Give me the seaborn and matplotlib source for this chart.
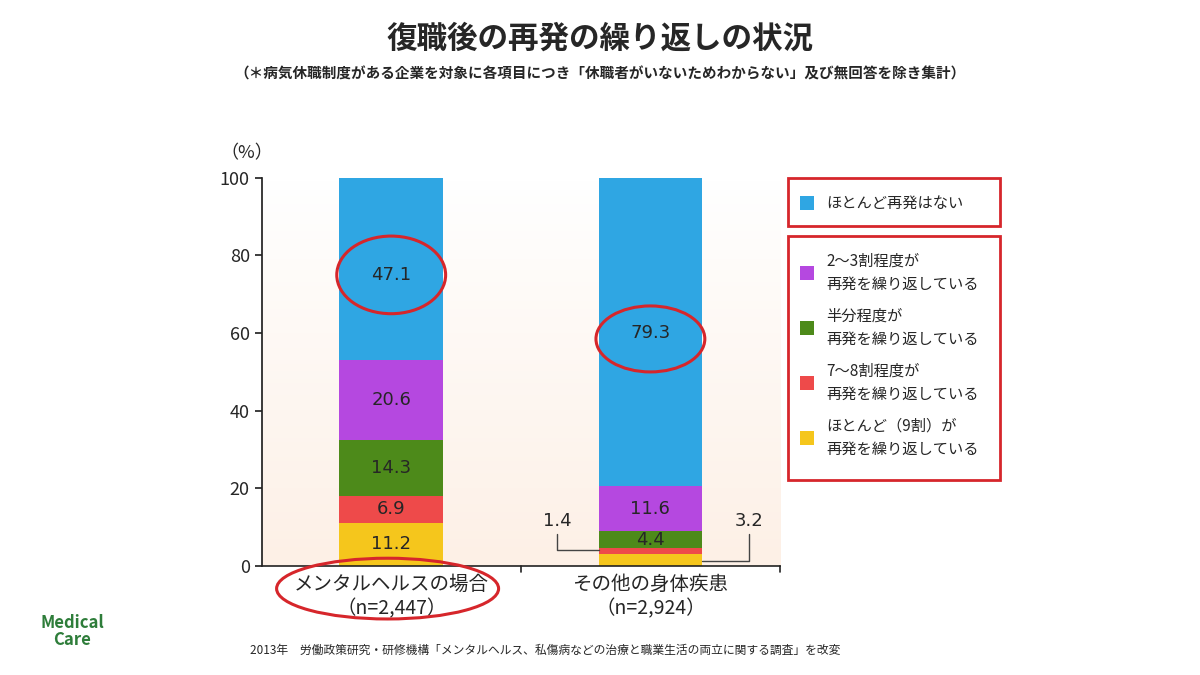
import matplotlib
matplotlib.use("Agg")
import matplotlib.pyplot as plt
import seaborn as sns
import numpy as np
import pandas as pd
from matplotlib.patches import Ellipse, Rectangle

sns.set_theme(style="white")
plt.rcParams['font.family'] = ['Noto Sans CJK JP', 'DejaVu Sans']

categories = ["メンタルヘルスの場合\n（n=2,447）", "その他の身体疾患\n（n=2,924）"]
series = ["ほとんど（9割）が\n再発を繰り返している", "7〜8割程度が\n再発を繰り返している",
          "半分程度が\n再発を繰り返している", "2〜3割程度が\n再発を繰り返している", "ほとんど再発はない"]
values = [[11.2, 3.2], [6.9, 1.4], [14.3, 4.4], [20.6, 11.6], [47.1, 79.3]]
colors = ["#f5c61c", "#ee4a4a", "#4d8a1a", "#b548e0", "#2fa6e3"]
yticks = [0, 20, 40, 60, 80, 100]

fig = plt.figure(figsize=(12, 6.75), dpi=100)
ax = fig.add_axes([0.218, 0.1615, 0.432, 0.575])
grad = np.linspace(1, 0, 100).reshape(-1, 1)
ax.imshow(grad, extent=[-0.5, 1.5, 0, 100], aspect='auto', origin='upper',
          cmap=matplotlib.colors.LinearSegmentedColormap.from_list("g", ["#fdf0e6", "#ffffff"]), zorder=0)

bottom = np.zeros(2)
df_base = pd.DataFrame({"cat": categories})
for s, vals, c in zip(series, values, colors):
    df = df_base.assign(v=vals)
    sns.barplot(data=df, x="cat", y="v", color=c, width=0.4, bottom=bottom, ax=ax,
                saturation=1, edgecolor="none", zorder=2)
    bottom = bottom + np.array(vals)

# labels
ax.text(0, 11.2/2, "11.2", ha="center", va="center", fontsize=13, family="DejaVu Sans", zorder=5)
ax.text(0, 11.2+6.9/2, "6.9", ha="center", va="center", fontsize=13, family="DejaVu Sans", zorder=5)
ax.text(0, 18.1+14.3/2, "14.3", ha="center", va="center", fontsize=13, family="DejaVu Sans", zorder=5)
ax.text(0, 32.4+20.6/2, "20.6", ha="center", va="center", fontsize=13, family="DejaVu Sans", zorder=5)
ax.text(0, 75, "47.1", ha="center", va="center", fontsize=13, family="DejaVu Sans", zorder=5)
ax.text(1, 4.6+4.4/2, "4.4", ha="center", va="center", fontsize=13, family="DejaVu Sans", zorder=5)
ax.text(1, 9.0+11.6/2, "11.6", ha="center", va="center", fontsize=13, family="DejaVu Sans", zorder=5)
ax.text(1, 60, "79.3", ha="center", va="center", fontsize=13, family="DejaVu Sans", zorder=5)
ax.text(0.64, 11.5, "1.4", ha="center", va="center", fontsize=13, family="DejaVu Sans")
ax.text(1.38, 11.5, "3.2", ha="center", va="center", fontsize=13, family="DejaVu Sans")
ax.plot([0.64, 0.64, 0.8], [8.3, 4.1, 4.1], color="#444", lw=1)
ax.plot([1.38, 1.38, 1.2], [8.3, 1.4, 1.4], color="#444", lw=1)
for xy, w, h in [((0, 75), 0.42, 20), ((1, 58.5), 0.42, 17)]:
    ax.add_patch(Ellipse(xy, w, h, fill=False, edgecolor="#d6262b", lw=2.2, zorder=6))

ax.set_xlim(-0.5, 1.5)
ax.set_ylim(0, 100)
ax.set_yticks(yticks)
ax.tick_params(axis="y", labelsize=13, length=5, direction="out", left=True)
ax.tick_params(axis="x", labelsize=14, length=0, pad=6)
ax.set_xlabel(""); ax.set_ylabel("")
for sp in ["top", "right"]:
    ax.spines[sp].set_visible(False)
for sp in ["left", "bottom"]:
    ax.spines[sp].set_color("#222")
ax.spines["bottom"].set_linewidth(1.2)
ax.plot([0.5, 0.5], [0, -1.5], color="#222", lw=1.2, clip_on=False)
ax.plot([1.5, 1.5], [0, -1.5], color="#222", lw=1.2, clip_on=False)
ax.text(-0.66, 104, "（%）", fontsize=13, ha="left", va="bottom")
fig.add_artist(Ellipse((0.323, 0.128), 0.185, 0.09, transform=fig.transFigure,
                       fill=False, edgecolor="#d6262b", lw=2.2))

# legend
def box(x, y, w, h):
    fig.add_artist(Rectangle((x/1200, 1-(y+h)/675), w/1200, h/675, transform=fig.transFigure,
                             fill=False, edgecolor="#d6262b", lw=2))
box(788, 178, 212, 48)
box(788, 236, 212, 244)
def item(y, text, c):
    fig.add_artist(Rectangle((800/1200, 1-(y+7)/675), 14/1200, 14/675, transform=fig.transFigure,
                             facecolor=c, edgecolor="none"))
    fig.text(826/1200, 1-y/675, text, fontsize=11, va="center", ha="left", linespacing=1.5)
item(203, series[4], colors[4])
item(273, series[3], colors[3])
item(328, series[2], colors[2])
item(383, series[1], colors[1])
item(438, series[0], colors[0])

fig.text(0.5, 0.93, "復職後の再発の繰り返しの状況", fontsize=22, weight="bold", ha="center")
fig.text(0.5, 0.883, "（＊病気休職制度がある企業を対象に各項目につき「休職者がいないためわからない」及び無回答を除き集計）",
         fontsize=10.5, weight="bold", ha="center")
fig.text(250/1200, 1-650/675, "2013年　労働政策研究・研修機構「メンタルヘルス、私傷病などの治療と職業生活の両立に関する調査」を改変",
         fontsize=8.5, ha="left", va="center")
fig.text(0.06, 0.045, "Medical\nCare", fontsize=12, weight="bold", color="#2e7d3a", ha="center", linespacing=0.9)

fig.savefig("out.png", dpi=100)
